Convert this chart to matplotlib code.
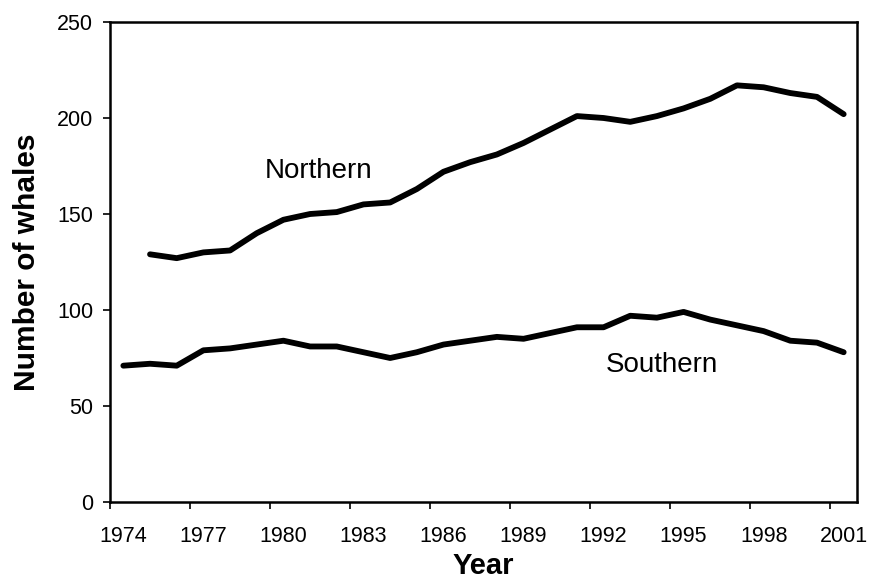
import matplotlib
matplotlib.use("Agg")
import matplotlib.pyplot as plt
from matplotlib.ticker import FixedLocator, NullFormatter

plt.rcParams['font.family'] = ['Liberation Sans', 'DejaVu Sans']

# data
years = list(range(1974, 2002))
northern_years = list(range(1975, 2002))
northern = [129, 127, 130, 131, 140, 147, 150, 151, 155, 156, 163, 172, 177, 181,
            187, 194, 201, 200, 198, 201, 205, 210, 217, 216, 213, 211, 202]
southern = [71, 72, 71, 79, 80, 82, 84, 81, 81, 78, 75, 78, 82, 84, 86,
            85, 88, 91, 91, 97, 96, 99, 95, 92, 89, 84, 83, 78]
label_years = years[::3]
y_ticks = [0, 50, 100, 150, 200, 250]

fig = plt.figure(figsize=(8.69, 5.79), dpi=100)
ax = fig.add_axes([0.1266, 0.133, 0.8596, 0.829])

ax.plot(years, southern, color='black', lw=4.2, solid_capstyle='round', solid_joinstyle='round')
ax.plot(northern_years, northern, color='black', lw=4.2, solid_capstyle='round', solid_joinstyle='round')

ax.text(1981.3, 172.5, 'Northern', fontsize=20, ha='center', va='center')
ax.text(1994.2, 71.5, 'Southern', fontsize=20, ha='center', va='center')

ax.set_xlim(1973.5, 2001.5)
ax.set_ylim(0, 250)

# ticks sit on the category boundaries, labels in the middle of the category
ax.xaxis.set_major_locator(FixedLocator([y - 0.5 for y in label_years]))
ax.xaxis.set_major_formatter(NullFormatter())
ax.set_xticks(label_years, minor=True)
ax.set_xticklabels([str(y) for y in label_years], minor=True)
ax.tick_params(axis='x', which='major', direction='out', length=5, width=1.2)
ax.tick_params(axis='x', which='minor', length=0, pad=17, labelsize=15.5)

ax.set_yticks(y_ticks)
ax.tick_params(axis='y', direction='out', length=5, width=1.2, pad=7, labelsize=15.5)

for s in ax.spines.values():
    s.set_linewidth(1.8)

ax.set_xlabel('Year', fontsize=21, fontweight='bold')
ax.set_ylabel('Number of whales', fontsize=21.5, fontweight='bold')
ax.xaxis.set_label_coords(0.5, -0.105)
ax.yaxis.set_label_coords(-0.092, 0.5)

fig.savefig('out.png', dpi=100)
